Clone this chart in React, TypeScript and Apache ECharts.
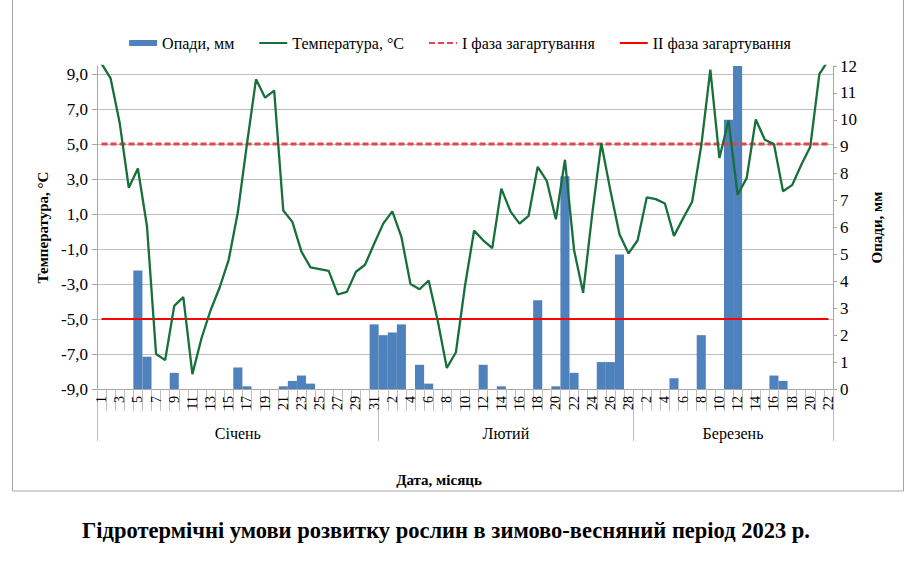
import React, { useEffect, useRef } from "react";
import * as echarts from "echarts";

// Months and the number of days shown for each of them
const months = ["Січень", "Лютий", "Березень"];
const monthDays = [31, 28, 22];

// Mean daily air temperature, °C (1 Jan – 22 Mar)
const temperatureJan = [
  9.6, 8.75, 6.2, 2.5, 3.6, 0.3, -7.0, -7.35, -4.25, -3.75,
  -8.15, -6.1, -4.5, -3.2, -1.6, 1.1, 5.0, 8.7, 7.65, 8.05,
  1.2, 0.55, -1.15, -2.05, -2.15, -2.25, -3.6, -3.45, -2.3, -1.9,
  -0.7,
];
const temperatureFeb = [
  0.45, 1.15, -0.3, -3.0, -3.3, -2.8, -5.1, -7.8, -6.9, -3.1,
  0.05, -0.5, -0.95, 2.45, 1.15, 0.45, 0.9, 3.7, 2.9, 0.7,
  4.1, -1.05, -3.5, 1.0, 5.05, 2.35, -0.15, -1.25,
];
const temperatureMar = [
  -0.5, 1.95, 1.85, 1.6, -0.25, 0.75, 1.7, 4.9, 9.25, 4.2,
  6.35, 2.1, 3.05, 6.4, 5.25, 5.0, 2.3, 2.65, 3.8, 4.85,
  9.0, 9.8,
];

// Daily precipitation, mm
const precipitationJan = [
  0, 0, 0, 0, 4.4, 1.2, 0, 0, 0.6, 0,
  0, 0, 0, 0, 0, 0.8, 0.1, 0, 0, 0,
  0.1, 0.3, 0.5, 0.2, 0, 0, 0, 0, 0, 0,
  2.4,
];
const precipitationFeb = [
  2.0, 2.1, 2.4, 0, 0.9, 0.2, 0, 0, 0, 0,
  0, 0.9, 0, 0.1, 0, 0, 0, 3.3, 0, 0.1,
  7.9, 0.6, 0, 0, 1.0, 1.0, 5.0, 0,
];
const precipitationMar = [
  0, 0, 0, 0, 0.4, 0, 0, 2.0, 0, 0,
  10.0, 12.0, 0, 0, 0, 0.5, 0.3, 0, 0, 0,
  0, 0,
];

// Hardening phase thresholds, °C
const phaseOneTemp = 5.0;
const phaseTwoTemp = -5.0;

// Axis ranges
const tempMin = -9;
const tempMax = 9.46;
const tempStep = 2;
const precipMin = 0;
const precipMax = 12;
const precipStep = 1;

const FONT = "Liberation Serif";

const temperature = [...temperatureJan, ...temperatureFeb, ...temperatureMar];
const precipitation = [...precipitationJan, ...precipitationFeb, ...precipitationMar];

const categories: string[] = [];
months.forEach((_, m) => {
  for (let d = 1; d <= monthDays[m]; d++) categories.push(`${m}|${d}`);
});

// month boundaries and midpoints on a 0..N day scale
const boundaries: number[] = [0];
monthDays.forEach((n, i) => boundaries.push(boundaries[i] + n));
const monthMids = months.map((_, i) => (boundaries[i] + boundaries[i + 1]) / 2);
const totalDays = boundaries[boundaries.length - 1];

export default function App() {
  const ref = useRef<HTMLDivElement>(null);

  useEffect(() => {
    if (!ref.current) return;
    const chart = echarts.init(ref.current, null, { renderer: "svg" });

    const gridBox = { left: 97, right: 87, top: 66, bottom: 187 };
    const lineLegendStyle = { opacity: 0 };

    chart.setOption({
      animation: false,
      backgroundColor: "#ffffff",
      textStyle: { fontFamily: FONT, color: "#000" },
      legend: {
        top: 30,
        left: "center",
        itemGap: 24,
        itemWidth: 28,
        itemHeight: 6,
        textStyle: { fontFamily: FONT, fontSize: 16, color: "#000" },
        data: [
          { name: "Опади, мм", icon: "rect" },
          { name: "Температура, °С", itemStyle: lineLegendStyle },
          { name: "I фаза загартування", itemStyle: lineLegendStyle },
          { name: "II фаза загартування", itemStyle: lineLegendStyle },
        ],
      },
      grid: [
        { ...gridBox, containLabel: false },
        { ...gridBox, containLabel: false },
      ],
      xAxis: [
        {
          type: "category",
          gridIndex: 0,
          data: categories,
          boundaryGap: true,
          axisLine: { show: true, onZero: false, lineStyle: { color: "#A6A6A6", width: 1 } },
          axisTick: {
            show: true,
            interval: 0,
            length: 22,
            lineStyle: { color: "#BFBFBF", width: 1 },
          },
          axisLabel: {
            interval: 1,
            rotate: 90,
            margin: 7,
            fontFamily: FONT,
            fontSize: 14,
            color: "#000",
            formatter: (v: string) => v.split("|")[1],
          },
          splitLine: { show: false },
        },
        {
          type: "value",
          gridIndex: 1,
          min: 0,
          max: totalDays,
          position: "bottom",
          axisLine: { show: false, onZero: false },
          axisTick: {
            show: true,
            length: 52,
            customValues: boundaries,
            lineStyle: { color: "#BFBFBF", width: 1 },
          },
          axisLabel: {
            show: true,
            customValues: monthMids,
            margin: 36,
            fontFamily: FONT,
            fontSize: 16,
            color: "#000",
            formatter: (v: number) => {
              const i = monthMids.findIndex((m) => Math.abs(m - v) < 1e-6);
              return i >= 0 ? months[i] : "";
            },
          },
          splitLine: { show: false },
        },
      ],
      yAxis: [
        {
          type: "value",
          gridIndex: 0,
          position: "left",
          min: tempMin,
          max: tempMax,
          interval: tempStep,
          axisLine: { show: true, onZero: false, lineStyle: { color: "#A6A6A6" } },
          axisTick: { show: true, length: 5, lineStyle: { color: "#A6A6A6" } },
          axisLabel: {
            showMaxLabel: false,
            margin: 9,
            fontFamily: FONT,
            fontSize: 17,
            color: "#000",
            formatter: (v: number) => v.toFixed(1).replace(".", ","),
          },
          splitLine: {
            show: true,
            showMaxLine: false,
            lineStyle: { color: "#BFBFBF", width: 1 },
          },
          name: "Температура, °С",
          nameLocation: "middle",
          nameRotate: 90,
          nameGap: 46,
          nameTextStyle: { fontFamily: FONT, fontSize: 15, fontWeight: "bold", color: "#000" },
        },
        {
          type: "value",
          gridIndex: 0,
          position: "right",
          min: precipMin,
          max: precipMax,
          interval: precipStep,
          axisLine: { show: true, onZero: false, lineStyle: { color: "#A6A6A6" } },
          axisTick: { show: true, length: 4, lineStyle: { color: "#A6A6A6" } },
          axisLabel: {
            margin: 7,
            fontFamily: FONT,
            fontSize: 17,
            color: "#000",
          },
          splitLine: { show: false },
          name: "Опади, мм",
          nameLocation: "middle",
          nameRotate: 90,
          nameGap: 36,
          nameTextStyle: { fontFamily: FONT, fontSize: 15, fontWeight: "bold", color: "#000" },
        },
        { type: "value", gridIndex: 1, show: false, min: 0, max: 1 },
      ],
      series: [
        {
          name: "Опади, мм",
          type: "bar",
          xAxisIndex: 0,
          yAxisIndex: 1,
          data: precipitation,
          barCategoryGap: "0%",
          itemStyle: { color: "#4F81BD" },
          z: 1,
        },
        {
          name: "Температура, °С",
          type: "line",
          xAxisIndex: 0,
          yAxisIndex: 0,
          data: temperature,
          showSymbol: false,
          symbol: "none",
          lineStyle: { color: "#17703A", width: 2.3 },
          itemStyle: { color: "#17703A" },
          z: 4,
        },
        {
          name: "I фаза загартування",
          type: "line",
          xAxisIndex: 0,
          yAxisIndex: 0,
          data: categories.map(() => phaseOneTemp),
          showSymbol: false,
          symbol: "none",
          lineStyle: { color: "#E2454B", width: 3, type: [6, 3] },
          itemStyle: { color: "#E2454B" },
          z: 3,
        },
        {
          name: "II фаза загартування",
          type: "line",
          xAxisIndex: 0,
          yAxisIndex: 0,
          data: categories.map(() => phaseTwoTemp),
          showSymbol: false,
          symbol: "none",
          lineStyle: { color: "#FF0000", width: 2 },
          itemStyle: { color: "#FF0000" },
          z: 3,
        },
      ],
      graphic: [
        {
          type: "rect",
          shape: { x: 12.5, y: -2, width: 891, height: 493 },
          style: { fill: "none", stroke: "#A6A6A6", lineWidth: 1 },
          silent: true,
        },
        {
          type: "text",
          x: 439,
          y: 480,
          style: {
            text: "Дата, місяць",
            fontFamily: FONT,
            fontSize: 15,
            fontWeight: "bold",
            fill: "#000",
            align: "center",
            verticalAlign: "middle",
          },
          silent: true,
        },
        {
          type: "text",
          x: 446,
          y: 530,
          style: {
            text: "Гідротермічні умови розвитку рослин в зимово-весняний період 2023 р.",
            fontFamily: FONT,
            fontSize: 22.5,
            fontWeight: "bold",
            fill: "#000",
            align: "center",
            verticalAlign: "middle",
          },
          silent: true,
        },
      ],
    });

    return () => chart.dispose();
  }, []);

  return (
    <div
      ref={ref}
      style={{ position: "fixed", left: 0, top: 0, width: 920, height: 576, background: "#fff" }}
    />
  );
}
